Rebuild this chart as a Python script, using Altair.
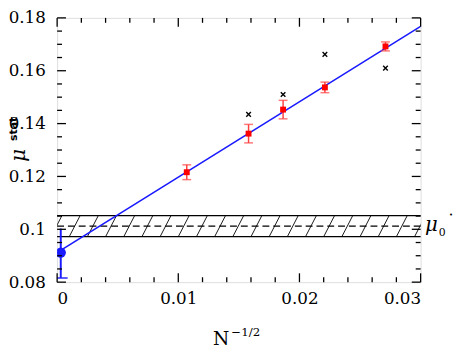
import altair as alt
import pandas as pd
import numpy as np

# ---- data ----
x_red = [0.0107, 0.0158, 0.01865, 0.0221, 0.0271]
y_red = [0.1216, 0.1362, 0.1453, 0.1537, 0.1692]
e_red = [0.0028, 0.0035, 0.0035, 0.0020, 0.0017]

x_cross = [0.0158, 0.01865, 0.0221, 0.0271]
y_cross = [0.1435, 0.1510, 0.1662, 0.1610]

x_blue = [0.0003]
y_blue = [0.0912]
lo_blue = [0.0816]
hi_blue = [0.1003]

fit_x = [0.0, 0.0305]
fit_y = [0.0912, 0.1782]

band_lo = 0.0972
band_hi = 0.1052
band_mid = 0.1012

x_ticks_major = [0.0, 0.01, 0.02, 0.03]
y_ticks_major = [0.08, 0.10, 0.12, 0.14, 0.16, 0.18]
x_ticks_minor = [0.002, 0.004, 0.006, 0.008, 0.012, 0.014, 0.016, 0.018,
                 0.022, 0.024, 0.026, 0.028]
y_ticks_minor = [0.085, 0.09, 0.095, 0.105, 0.11, 0.115, 0.125, 0.13, 0.135,
                 0.145, 0.15, 0.155, 0.165, 0.17, 0.175]

W, H = 370, 269
FONT = "DejaVu Serif"

xs = alt.Scale(domain=[0, 0.03], nice=False, zero=False)
ys = alt.Scale(domain=[0.08, 0.18], nice=False, zero=False)

AXX = alt.Axis(values=x_ticks_major, ticks=False, domain=False, grid=False, title=None,
               labelExpr="format(datum.value, '~g')", labelFont=FONT,
               labelFontSize=17, labelColor="black", labelPadding=9)
AXY = alt.Axis(values=y_ticks_major, ticks=False, domain=False, grid=False, title=None,
               labelExpr="format(datum.value, '~g')", labelFont=FONT,
               labelFontSize=17, labelColor="black", labelPadding=12)

red = pd.DataFrame({"x": x_red, "y": y_red,
                    "lo": [a - b for a, b in zip(y_red, e_red)],
                    "hi": [a + b for a, b in zip(y_red, e_red)]})
cross = pd.DataFrame({"x": x_cross, "y": y_cross})
blue = pd.DataFrame({"x": x_blue, "y": y_blue, "lo": lo_blue, "hi": hi_blue})
fit = pd.DataFrame({"x": fit_x, "y": fit_y})

# hatch pattern lines (decoration of the band)
hatch_x = np.arange(-0.002, 0.031, 0.0015)
hatch = pd.DataFrame({"x": hatch_x, "x2": hatch_x + 0.0009,
                      "y": band_lo, "y2": band_hi})
bands = pd.DataFrame({"y": [band_lo, band_hi]})
mid = pd.DataFrame({"y": [band_mid]})


def X(f="x:Q"):
    return alt.X(f, scale=xs, axis=AXX)


def Y(f="y:Q"):
    return alt.Y(f, scale=ys, axis=AXY)


# ticks drawn inward
ymaj = pd.DataFrame({"y": y_ticks_major})
ymin = pd.DataFrame({"y": y_ticks_minor})
xmaj = pd.DataFrame({"x": x_ticks_major})
xmin = pd.DataFrame({"x": x_ticks_minor})
tk = dict(color="black", strokeWidth=1.3)
ticks = [
    alt.Chart(ymaj).mark_rule(**tk).encode(y=Y(), x=alt.value(0), x2=alt.value(9)),
    alt.Chart(ymaj).mark_rule(**tk).encode(y=Y(), x=alt.value(W), x2=alt.value(W - 9)),
    alt.Chart(ymin).mark_rule(**tk).encode(y=Y(), x=alt.value(0), x2=alt.value(5)),
    alt.Chart(ymin).mark_rule(**tk).encode(y=Y(), x=alt.value(W), x2=alt.value(W - 5)),
    alt.Chart(xmaj).mark_rule(**tk).encode(x=X(), y=alt.value(H), y2=alt.value(H - 9)),
    alt.Chart(xmaj).mark_rule(**tk).encode(x=X(), y=alt.value(0), y2=alt.value(9)),
    alt.Chart(xmin).mark_rule(**tk).encode(x=X(), y=alt.value(H), y2=alt.value(H - 5)),
    alt.Chart(xmin).mark_rule(**tk).encode(x=X(), y=alt.value(0), y2=alt.value(5)),
]

hatch_l = alt.Chart(hatch).mark_rule(color="black", strokeWidth=0.9, clip=True).encode(
    x=X(), x2="x2:Q", y=Y(), y2="y2:Q")
band_l = alt.Chart(bands).mark_rule(color="black", strokeWidth=1.2).encode(
    y=Y(), x=alt.value(0), x2=alt.value(W))
mid_l = alt.Chart(mid).mark_rule(color="black", strokeWidth=1.2, strokeDash=[7, 4]).encode(
    y=Y(), x=alt.value(0), x2=alt.value(W))

fit_l = alt.Chart(fit).mark_line(color="#1a1aff", strokeWidth=1.4, clip=True).encode(
    x=X(), y=Y())

red_bar = alt.Chart(red).mark_rule(color="#ff4040", strokeWidth=1.5).encode(
    x=X(), y=Y("lo:Q"), y2="hi:Q")
red_cap_lo = alt.Chart(red).mark_tick(color="#ff4040", orient="horizontal", size=9,
                                      thickness=1.5).encode(x=X(), y=Y("lo:Q"))
red_cap_hi = alt.Chart(red).mark_tick(color="#ff4040", orient="horizontal", size=9,
                                      thickness=1.5).encode(x=X(), y=Y("hi:Q"))
red_pt = alt.Chart(red).mark_point(shape="square", filled=True, color="#ff0000",
                                   size=36, opacity=1).encode(x=X(), y=Y())

cross_pt = alt.Chart(cross).mark_point(shape="M-1,-1L1,1M-1,1L1,-1", filled=False,
                                       color="black", size=22, strokeWidth=1.4,
                                       opacity=1).encode(x=X(), y=Y())

blue_bar = alt.Chart(blue).mark_rule(color="#1a1aff", strokeWidth=2).encode(
    x=X(), y=Y("lo:Q"), y2="hi:Q")
blue_cap = alt.Chart(blue).mark_tick(color="#1a1aff", orient="horizontal", size=14,
                                     thickness=2, clip=True).encode(x=X(), y=Y("lo:Q"))
blue_pt = alt.Chart(blue).mark_point(shape="circle", filled=True, color="#1a1aff",
                                     size=110, opacity=1, clip=True).encode(x=X(), y=Y())


# text labels
def txt(s, x, y, size, **kw):
    return alt.Chart(pd.DataFrame({"t": [s]})).mark_text(
        fontSize=size, color="black", **kw).encode(
        text="t:N", x=alt.value(x), y=alt.value(y))


labels = [
    txt("μ", -39, 140, 20, font=FONT, fontStyle="italic", angle=270, baseline="middle"),
    txt("stat", -44, 113, 11, font="DejaVu Sans", fontWeight="bold", angle=270,
        baseline="middle"),
    txt("N", 167, 333, 19, font=FONT, baseline="alphabetic"),
    txt("−1/2", 192, 324, 12, font=FONT, baseline="alphabetic"),
    txt("μ", W + 11, 217, 20, font=FONT, fontStyle="italic", baseline="alphabetic"),
    txt("0", W + 22, 222, 11, font=FONT, baseline="alphabetic"),
    txt("•", W + 31, 201, 7, font=FONT, baseline="middle"),
]

chart = alt.layer(
    hatch_l, band_l, mid_l, fit_l,
    red_bar, red_cap_lo, red_cap_hi, red_pt, cross_pt,
    blue_bar, blue_cap, blue_pt, *ticks, *labels
).properties(
    width=W, height=H,
    autosize=alt.AutoSizeParams(type="none"),
    padding={"left": 50, "top": 7, "right": 35, "bottom": 66},
).configure_view(stroke="black", strokeWidth=1.5).configure(background="white")

chart.save("out.html", embed_options={"renderer": "svg", "actions": False})
